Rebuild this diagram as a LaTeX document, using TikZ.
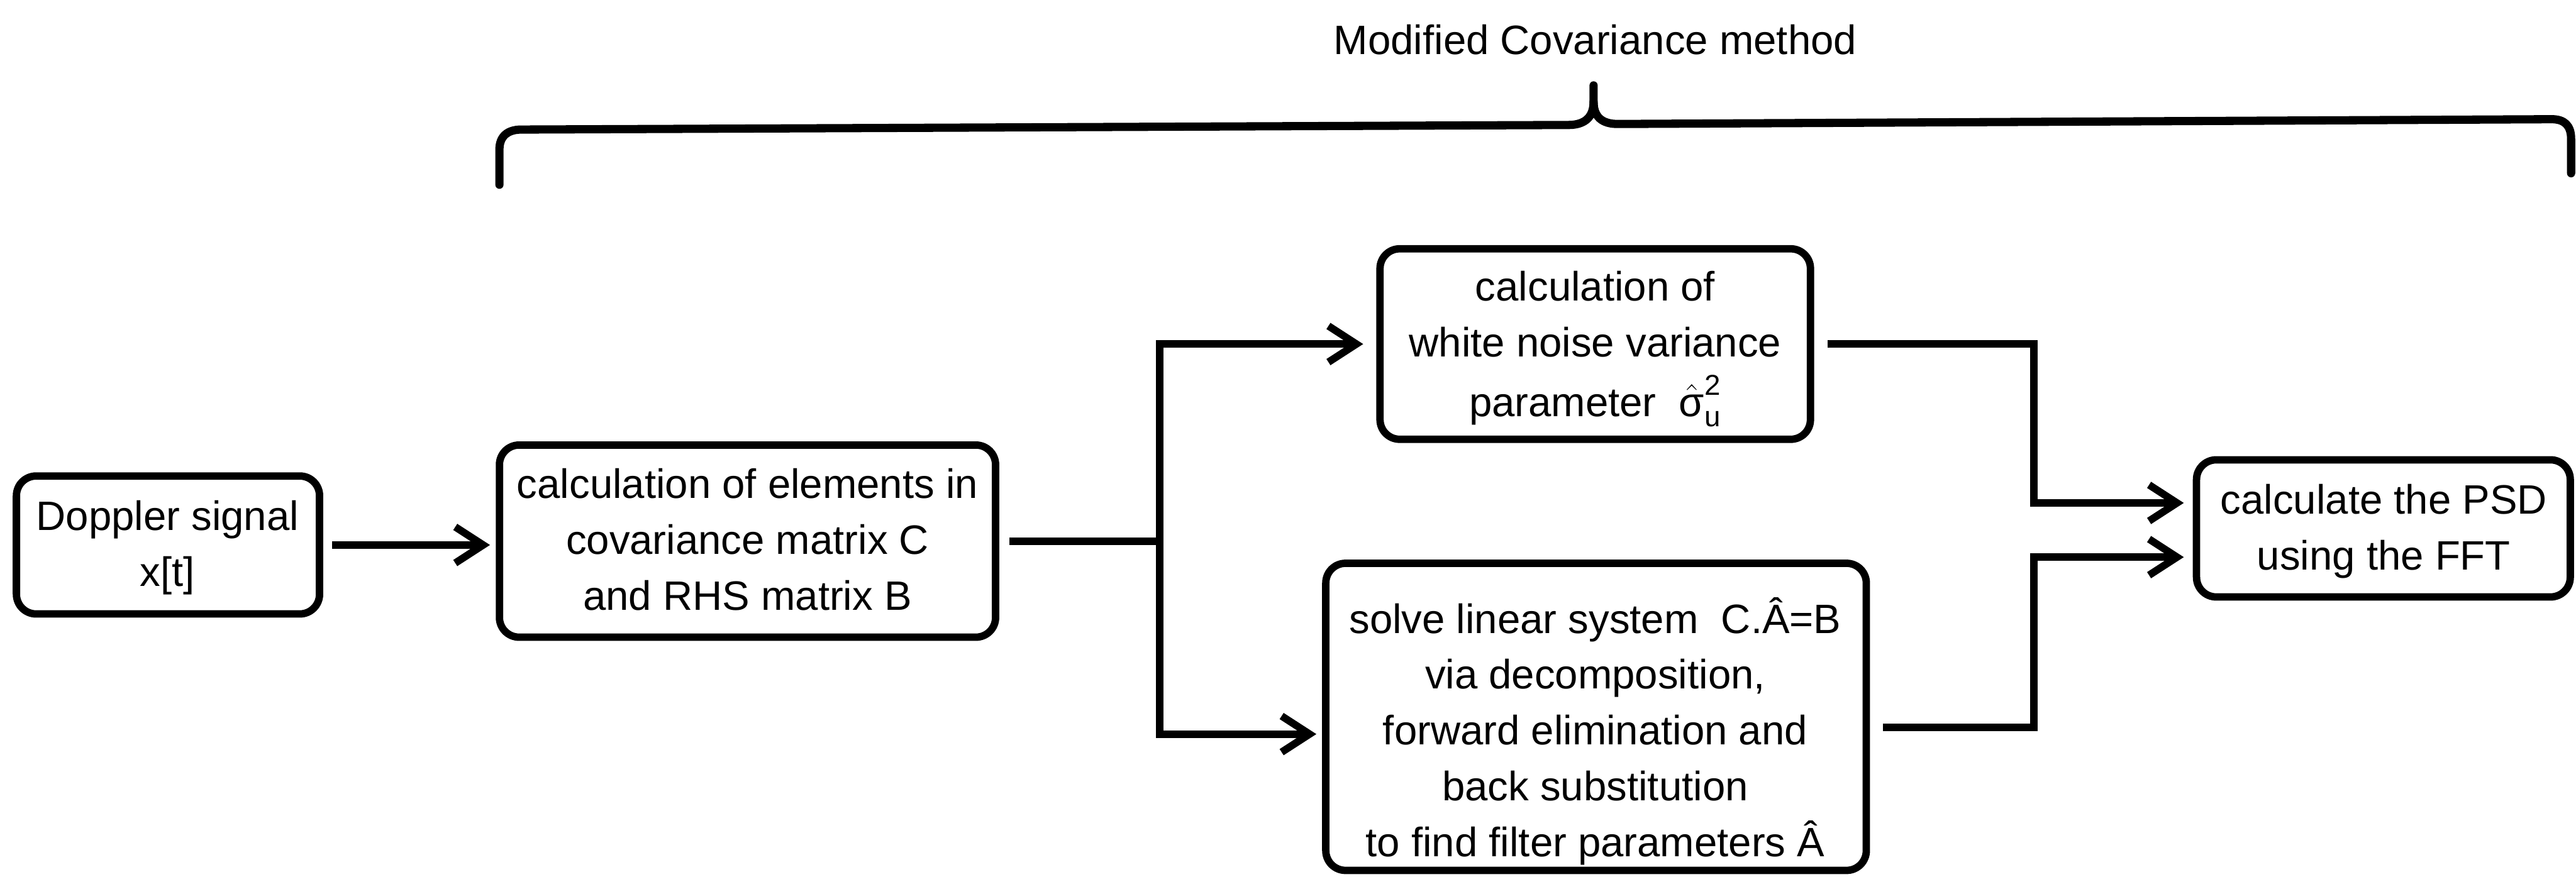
\documentclass[tikz,border=0pt]{standalone}
\usepackage{fontspec}
\usepackage{amsmath}
\setmainfont{Liberation Sans}
\usetikzlibrary{arrows.meta,calc}
\begin{document}
\begin{tikzpicture}[x=1pt,y=-1pt,
  every node/.style={font=\fontsize{25}{34}\selectfont},
  box/.style={draw,line width=4.5pt,rounded corners=12pt,inner sep=0pt},
  txt/.style={align=center,inner sep=0pt},
  wire/.style={line width=4.5pt},
  arr/.style={wire,-{Straight Barb[length=17pt,width=22pt]}},
  brace/.style={line width=5pt,line cap=round}]
\useasboundingbox (0,0) rectangle (1568,534);

% title and brace over the method stages
\node[anchor=base] (title) at (971,33) {Modified Covariance method};
\draw[brace] (304,112.5) -- (304,91) .. controls (304,83) and (309,79) .. (317,78.9)
  -- (955,76.1) .. controls (965,76) and (970,71) .. (970,62) -- (970,52);
\draw[brace] (970,62) .. controls (970,71) and (975,75.6) .. (985,75.5)
  -- (1553,72.6) .. controls (1561,72.5) and (1565,76.5) .. (1565,84.5) -- (1565,105.5);

% processing blocks
\node[box,minimum width=184.5pt,minimum height=84pt]  (b1) at (102.25,331.85) {};
\node[box,minimum width=302pt,minimum height=117pt]   (b2) at (455,329.5) {};
\node[box,minimum width=262pt,minimum height=116pt]   (b3) at (971,209.5) {};
\node[box,minimum width=329pt,minimum height=187pt]   (b4) at (971.5,436.5) {};
\node[box,minimum width=227.5pt,minimum height=83.5pt] (b5) at (1450.75,321.75) {};

% block texts
\node[txt] (t1) at (102,333.2) {\strut Doppler signal\\\strut x[t]};
\node[txt] (t2) at (455,330.7) {\strut calculation of elements in\\\strut covariance matrix C\\\strut and RHS matrix B};
\node[txt] (t3) at (971,211.7) {\strut calculation of\\\strut white noise variance\\\strut parameter\ \ $\hat{\text{σ}}^{\text{2}}_{\text{u}}$};
\node[txt] (t4) at (971,446.7) {\strut solve linear system\ \ C.Â=B\\\strut via decomposition,\\\strut forward elimination and\\\strut back substitution\\\strut to find filter parameters Â};
\node[txt] (t5) at (1451,323.2) {\strut calculate the PSD\\\strut using the FFT};

% connectors
\coordinate (j) at (706,329.5);
\coordinate (m) at (1238,300);
\coordinate (b4in)  at ([yshift=-10.5pt]b4.west);
\coordinate (b4out) at ([yshift=-6.5pt]b4.east);
\coordinate (b5a)   at ([yshift=15.5pt]b5.west);
\coordinate (b5b)   at ([yshift=-17.5pt]b5.west);

\draw[arr,shorten <=5.5pt,shorten >=3.5pt] (b1.east) -- (b1.east -| b2.west);
\draw[wire,shorten <=6pt] (b2.east) -- (j);
\draw[arr,shorten >=8pt] (j) |- (b3.west);
\draw[arr,shorten >=3.5pt] (j) |- (b4in);
\draw[arr,shorten <=8pt,shorten >=5.5pt] (b3.east) -- (b3.east -| m) |- (b5a);
\draw[arr,shorten <=8pt,shorten >=5.5pt] (b4out) -- (b4out -| m) |- (b5b);
\end{tikzpicture}
\end{document}
